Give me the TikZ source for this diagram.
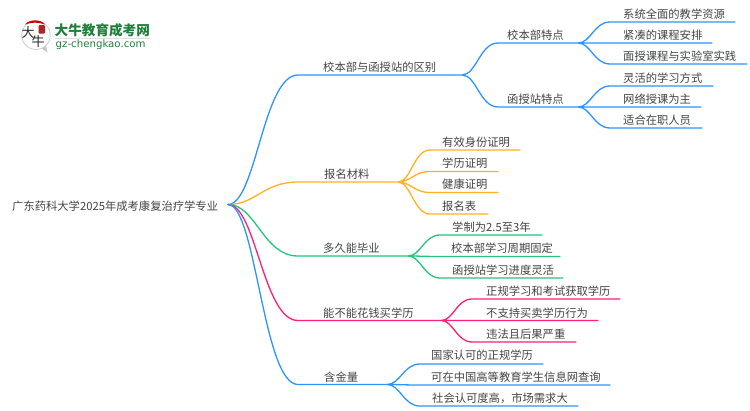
\documentclass[tikz,border=0pt]{standalone}
\usepackage{fontspec}
\setmainfont{Noto Sans CJK SC}
\newfontfamily\latinlogo{DejaVu Sans}
\usetikzlibrary{calc}
\definecolor{cblue}{HTML}{2E95FF}
\definecolor{corange}{HTML}{FFB31F}
\definecolor{cgreen}{HTML}{22C77A}
\definecolor{cpink}{HTML}{FF1E78}
\definecolor{ctext}{HTML}{444444}
\definecolor{logogreen}{HTML}{1E7F3C}
\tikzset{
  x=1pt,y=-1pt,
  lab/.style={anchor=west,inner sep=0pt,text=ctext,yshift=-0.4pt,font=\fontsize{11.3}{12}\selectfont},
  conn/.style={line width=1.3pt,line cap=round},
  curve/.style={to path={.. controls ($(\tikztostart)!.4!(\tikztostart-|\tikztotarget)$) and ($(\tikztotarget)!.5!(\tikztotarget-|\tikztostart)$) .. (\tikztotarget)}},
}
\begin{document}
\begin{tikzpicture}
\useasboundingbox (0,0) rectangle (750,410);
\fill[white] (0,0) rectangle (750,410);
% logo
\fill[black!22] (41,48) -- (47.5,52.5) -- (46,45) -- cycle;
\draw[black!18,fill=white,line width=0.9pt] (36,35.2) circle[radius=14.3];
\fill[red!80!black] (25,24.5) .. controls (29,19) and (41,19) .. (45,24.5) .. controls (38,22) and (32,22) .. (25,24.5) -- cycle;
\fill[red!60!black!85,rounded corners=1pt] (38.5,25) rectangle (45,33.5);
\node[inner sep=0pt,text=black!85,font=\fontsize{13}{13}\selectfont] (logoa) at (28,33) {大};
\node[inner sep=0pt,text=black!85,font=\fontsize{13}{13}\selectfont] (logob) at (38,42) {牛};
\node[inner sep=0pt,anchor=west,text=logogreen,font=\fontsize{13.6}{14}\selectfont\bfseries] (logoc) at (54.5,30) {大牛教育成考网};
\fill[black!12] (55,38) rectangle (150,39);
\node[inner sep=0pt,anchor=west,text=logogreen,font=\fontsize{10.2}{10}\selectfont\latinlogo] (logod) at (55.5,45) {gz-chengkao.com};
% anchors
\coordinate (root) at (228,204.5);
\foreach \n/\x/\y in {
 s1/298/75,j1/462/75,a/498/43,ae/578/43,b/498/107,be/578/107,
 a1/610/22,a1e/735/22,a2/610/43,a2e/712/43,a3/610/64,a3e/747/64,
 b1/610/86,b1e/713/86,b2/610/107,b2e/701/107,b3/610/128,b3e/702/128,
 s2/298/182,j2/398/182,c1/430/150,c1e/520/150,c2/430/171.5,c2e/498/171.5,c3/430/192.5,c3e/498/192.5,c4/430/214,c4e/488/214,
 s3/298/256,j3/408/256,d1/440/235,d1e/542/235,d2/440/256.5,d2e/560/256.5,d3/440/278,d3e/563/278,
 s4/298/320.5,j4/441/320.5,e1/472/299,e1e/620/299,e2/472/320.5,e2e/598/320.5,e3/472/342,e3e/576/342,
 s5/298/384.5,j5/387/384.5,f1/420/364,f1e/543/364,f2/420/385,f2e/610/385,f3/420/406,f3e/578/406}
 {\coordinate (\n) at (\x,\y);}
% connectors
\draw[conn,cblue] (root) to[curve] (s1) -- (j1) (j1) to[curve] (a) -- (ae) (j1) to[curve] (b) -- (be)
 (ae) to[curve] (a1) -- (a1e) (ae) to[curve] (a2) -- (a2e) (ae) to[curve] (a3) -- (a3e)
 (be) to[curve] (b1) -- (b1e) (be) to[curve] (b2) -- (b2e) (be) to[curve] (b3) -- (b3e);
\draw[conn,corange] (root) to[curve] (s2) -- (j2) (j2) to[curve] (c1) -- (c1e) (j2) to[curve] (c2) -- (c2e) (j2) to[curve] (c3) -- (c3e) (j2) to[curve] (c4) -- (c4e);
\draw[conn,cgreen] (root) to[curve] (s3) -- (j3) (j3) to[curve] (d1) -- (d1e) (j3) to[curve] (d2) -- (d2e) (j3) to[curve] (d3) -- (d3e);
\draw[conn,cpink] (root) to[curve] (s4) -- (j4) (j4) to[curve] (e1) -- (e1e) (j4) to[curve] (e2) -- (e2e) (j4) to[curve] (e3) -- (e3e);
\draw[conn,cblue] (root) to[curve] (s5) -- (j5) (j5) to[curve] (f1) -- (f1e) (j5) to[curve] (f2) -- (f2e) (j5) to[curve] (f3) -- (f3e);
% labels
\foreach \n/\x/\y/\t in {
 troot/12/205.5/广东药科大学2025年成考康复治疗学专业,
 t1/323/66.5/校本部与函授站的区别,
 ta/507/34.5/校本部特点,tb/507/98.5/函授站特点,
 ta1/623/13.5/系统全面的教学资源,ta2/623/34.5/紧凑的课程安排,ta3/623/56/面授课程与实验室实践,
 tb1/623/77.5/灵活的学习方式,tb2/623/99/网络授课为主,tb3/623/120/适合在职人员,
 t2/324/173.5/报名材料,
 tc1/442/141.5/有效身份证明,tc2/442/163/学历证明,tc3/442/184/健康证明,tc4/442/206/报名表,
 t3/323/248/多久能毕业,
 td1/452/227/学制为2.5至3年,td2/451/248/校本部学习周期固定,td3/452/270/函授站学习进度灵活,
 t4/323/312.5/能不能花钱买学历,
 te1/486/291/正规学习和考试获取学历,te2/486/312.5/不支持买卖学历行为,te3/486/333.5/违法且后果严重,
 t5/324/376.5/含金量,
 tf1/431/355/国家认可的正规学历,tf2/431/376.5/可在中国高等教育学生信息网查询,tf3/432/398/社会认可度高，市场需求大}
 {\node[lab] (\n) at (\x,\y) {\t};}
\end{tikzpicture}
\end{document}
